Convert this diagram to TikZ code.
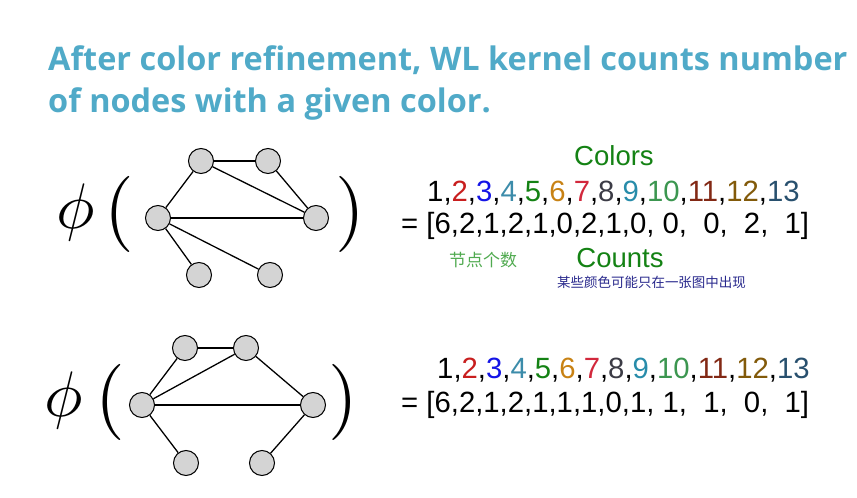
\documentclass[tikz,border=0pt]{standalone}
\usepackage{fontspec}
\setmainfont{Liberation Sans}
\newfontfamily\titlefont{Open Sans}
\newfontfamily\cjk{Noto Sans CJK SC}
\definecolor{titleblue}{RGB}{80,170,200}
\definecolor{cgreen}{RGB}{20,130,20}
\definecolor{cred}{RGB}{200,30,30}
\definecolor{cblue}{RGB}{20,20,230}
\definecolor{cteal}{RGB}{60,140,170}
\definecolor{corange}{RGB}{200,130,20}
\definecolor{ccrimson}{RGB}{210,40,60}
\definecolor{cgray}{RGB}{60,60,70}
\definecolor{ccyan}{RGB}{40,140,170}
\definecolor{clgreen}{RGB}{60,150,80}
\definecolor{cbrown}{RGB}{130,40,20}
\definecolor{colive}{RGB}{130,90,10}
\definecolor{cslate}{RGB}{40,80,110}
\definecolor{noteblue}{RGB}{40,40,140}
\definecolor{notegreen}{RGB}{80,170,80}
\begin{document}
\begin{tikzpicture}[x=0.03cm,y=-0.03cm,
    vertex/.style={circle,draw,fill=black!17,line width=0.9pt,minimum size=0.75cm,inner sep=0pt},
    edge/.style={line width=1.1pt},
    bigsym/.style={inner sep=0pt,scale=#1},
    numrow/.style={anchor=base west,inner sep=0pt,font=\fontsize{25}{28}\selectfont}]
  \useasboundingbox (0,0) rectangle (857,498);
  % ------ title ------
  \node[anchor=base west,inner sep=0pt,text=titleblue,font=\titlefont\bfseries\fontsize{27.7}{30}\selectfont] (t1) at (48,70) {After color refinement, WL kernel counts number};
  \node[anchor=base west,inner sep=0pt,text=titleblue,font=\titlefont\bfseries\fontsize{27.7}{30}\selectfont] (t2) at (48,112) {of nodes with a given color.};
  % ------ first graph ------
  \node[bigsym=5.5] (phiA) at (76,212) {$\phi$};
  \node[bigsym=6.5] (openA) at (119,214) {$($};
  \node[bigsym=6.5] (closeA) at (350,214) {$)$};
  \node[vertex] (a1) at (201,161) {};
  \node[vertex] (a2) at (268,161) {};
  \node[vertex] (a3) at (158,218) {};
  \node[vertex] (a4) at (316,218) {};
  \node[vertex] (a5) at (199,275) {};
  \node[vertex] (a6) at (270,275) {};
  \foreach \u/\v in {a1/a2,a1/a3,a1/a4,a2/a4,a3/a4,a3/a5,a3/a6}
    \draw[edge] (\u) -- (\v);
  % ------ second graph ------
  \node[bigsym=5.5] (phiB) at (64,400) {$\phi$};
  \node[bigsym=6.5] (openB) at (110,402) {$($};
  \node[bigsym=6.5] (closeB) at (343,402) {$)$};
  \node[vertex] (b1) at (185,348) {};
  \node[vertex] (b2) at (246,348) {};
  \node[vertex] (b3) at (142,405) {};
  \node[vertex] (b4) at (313,405) {};
  \node[vertex] (b5) at (186,463) {};
  \node[vertex] (b6) at (262,463) {};
  \foreach \u/\v in {b1/b2,b1/b3,b2/b3,b2/b4,b3/b4,b3/b5,b4/b6}
    \draw[edge] (\u) -- (\v);
  % ------ colour vectors ------
  \newcommand\colorlist{1,\textcolor{cred}{2},\textcolor{cblue}{3},\textcolor{cteal}{4},\textcolor{cgreen}{5},\textcolor{corange}{6},\textcolor{ccrimson}{7},\textcolor{cgray}{8},\textcolor{ccyan}{9},\textcolor{clgreen}{10},\textcolor{cbrown}{11},\textcolor{colive}{12},\textcolor{cslate}{13}}
  \node[anchor=base,text=cgreen,font=\fontsize{23.5}{26}\selectfont] (colors) at (614,165) {Colors};
  \node[numrow] (rowA) at (427,201) {\colorlist};
  \node[numrow] (vecA) at (401,233) {= [6,2,1,2,1,0,2,1,0, 0,\ \ 0,\ \ 2,\ \ 1]};
  \node[anchor=base,text=cgreen,font=\fontsize{23.5}{26}\selectfont] (counts) at (620,267) {Counts};
  \node[anchor=base west,inner sep=0pt,text=notegreen,font=\cjk\fontsize{14.5}{16}\selectfont] (noteA) at (449,266) {节点个数};
  \node[anchor=base west,inner sep=0pt,text=noteblue,font=\cjk\fontsize{11.5}{12}\selectfont] (noteB) at (557,287) {某些颜色可能只在一张图中出现};
  \node[numrow] (rowB) at (437,378) {\colorlist};
  \node[numrow] (vecB) at (401,412) {= [6,2,1,2,1,1,1,0,1, 1,\ \ 1,\ \ 0,\ \ 1]};
\end{tikzpicture}
\end{document}
